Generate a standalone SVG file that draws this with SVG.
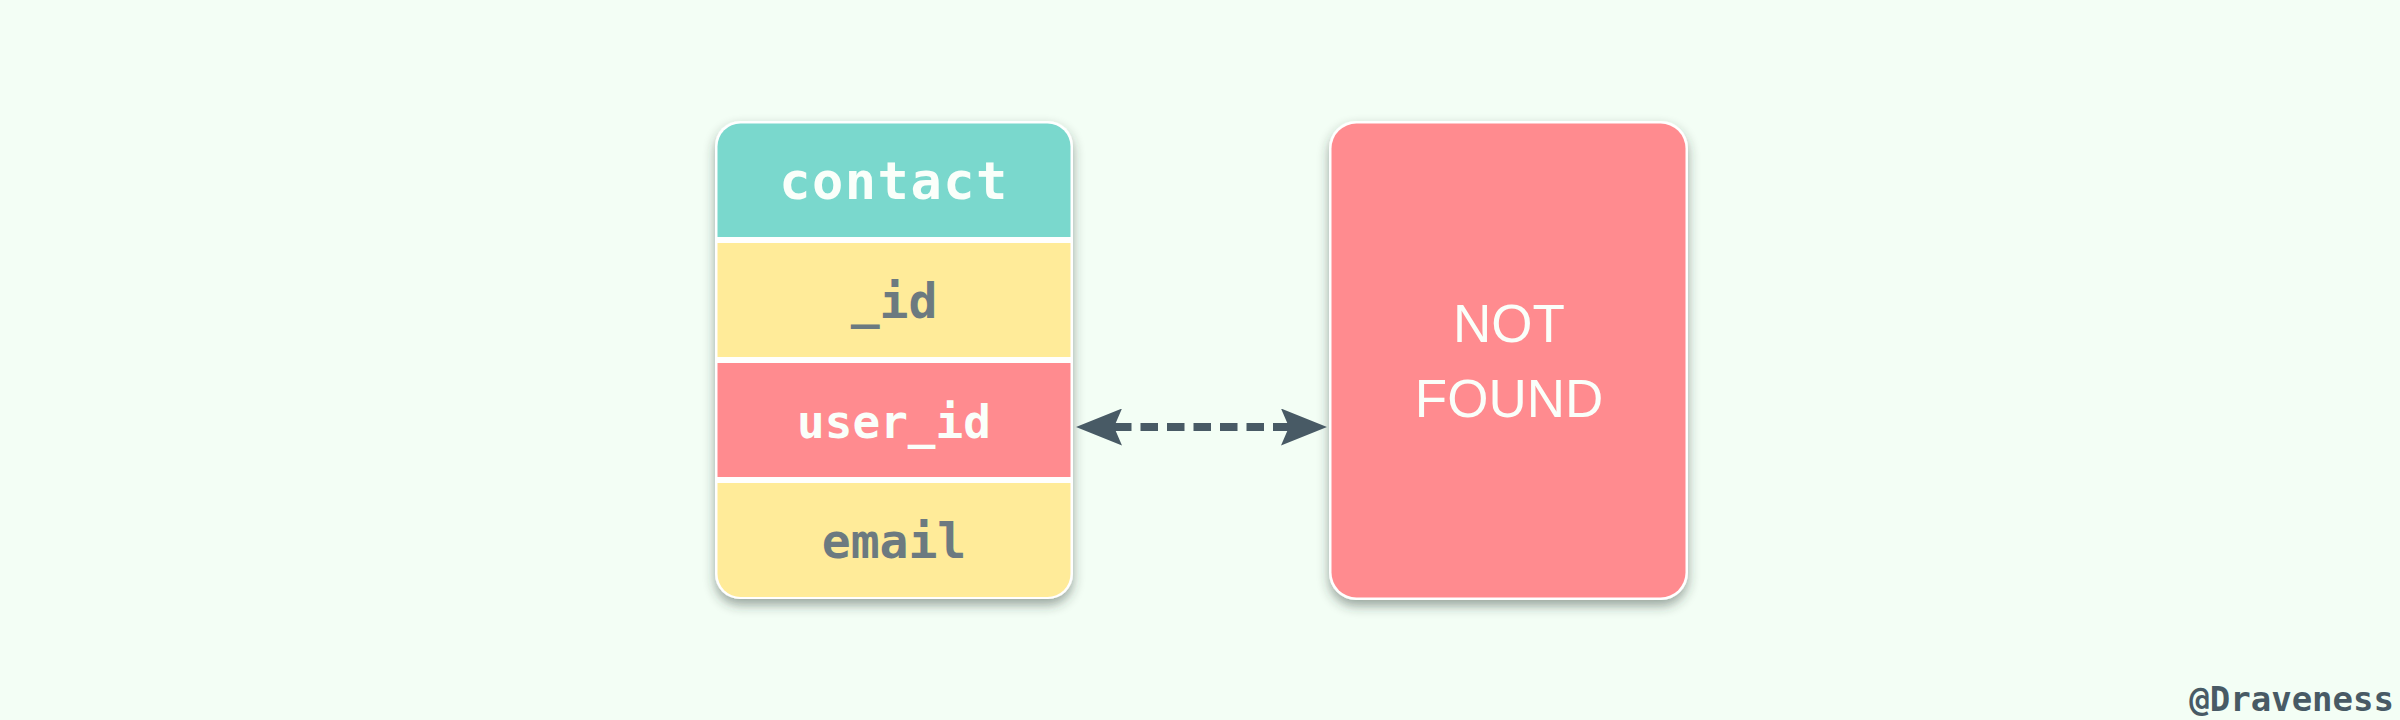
<svg xmlns="http://www.w3.org/2000/svg" width="2400" height="720" viewBox="0 0 2400 720">
  <style>
    .mono { font-family: "DejaVu Sans Mono", "Liberation Mono", monospace; font-weight: bold; text-anchor: middle; }
    .light { fill: #FAFFFA; }
    .dark { fill: #6C7A80; }
    .sans { font-family: "Liberation Sans", Arial, sans-serif; font-size: 53px; fill: #FAFFFA; text-anchor: middle; }
    .conn { stroke: #485A65; stroke-width: 8; stroke-dasharray: 17.5 9; fill: none; }
  </style>
  <defs>
    <filter id="shadow" x="-20%" y="-20%" width="140%" height="140%">
      <feDropShadow dx="0" dy="6" stdDeviation="6" flood-color="#2b3b33" flood-opacity="0.45"/>
    </filter>
    <clipPath id="tableClip">
      <rect x="717.5" y="123.5" width="353" height="473.5" rx="23" ry="23"/>
    </clipPath>
    <marker id="arrow" viewBox="0 0 46 37" markerWidth="46" markerHeight="37" markerUnits="userSpaceOnUse" refX="8" refY="18.5" orient="auto-start-reverse">
      <path d="M0,0 L46,18.5 L0,37 L8,18.5 Z" fill="#485A65"/>
    </marker>
  </defs>
  <rect width="2400" height="720" fill="#F3FEF5"/>

  <g id="contact-table">
    <rect x="715" y="121" width="358" height="478" rx="25" ry="25" fill="#FFFFFF" filter="url(#shadow)"/>
    <g clip-path="url(#tableClip)">
      <rect x="715" y="121" width="358" height="116" fill="#7AD8CD"/>
      <rect x="715" y="243" width="358" height="114" fill="#FFEB99"/>
      <rect x="715" y="363" width="358" height="114" fill="#FF8B8F"/>
      <rect x="715" y="483" width="358" height="116" fill="#FFEB99"/>
    </g>
    <text class="mono light" x="894" y="199" font-size="52" letter-spacing="1.5">contact</text>
    <text class="mono dark" x="894" y="318" font-size="48">_id</text>
    <text class="mono light" x="894" y="438" font-size="46">user_id</text>
    <text class="mono dark" x="894" y="558" font-size="48">email</text>
  </g>

  <g id="not-found">
    <rect x="1329" y="121" width="359" height="479" rx="27" ry="27" fill="#FFFFFF" filter="url(#shadow)"/>
    <rect x="1331.5" y="123.5" width="354" height="474" rx="25" ry="25" fill="#FF8B8F"/>
    <text class="sans" x="1509" y="342">NOT</text>
    <text class="sans" x="1509" y="417">FOUND</text>
  </g>

  <g id="connectors">
    <line class="conn" x1="1114" y1="427" x2="1289" y2="427" marker-start="url(#arrow)" marker-end="url(#arrow)"/>
  </g>

  <text x="2394" y="711" font-family="DejaVu Sans Mono, Liberation Mono, monospace" font-weight="bold" font-size="34" fill="#485A65" text-anchor="end">@Draveness</text>
</svg>
